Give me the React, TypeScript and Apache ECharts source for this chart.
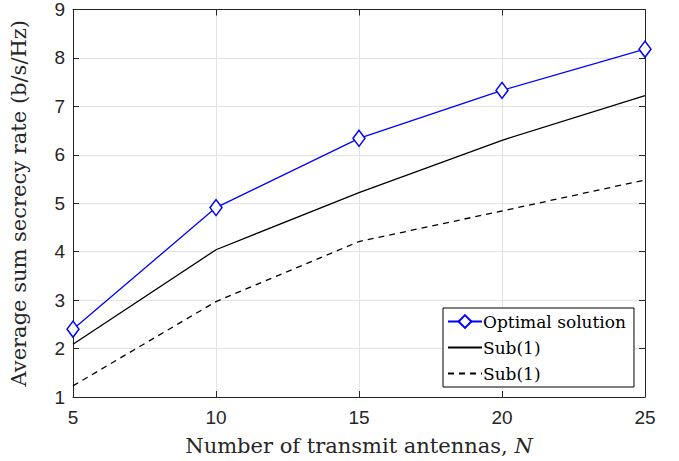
import React, { useEffect, useRef } from "react";
import * as echarts from "echarts";

// Number of transmit antennas N
const antennas = [5, 10, 15, 20, 25];
// Average sum secrecy rate (b/s/Hz)
const optimalRate = [2.4, 4.91, 6.34, 7.33, 8.18];
const subSolidRate = [2.09, 4.04, 5.22, 6.3, 7.22];
const subDashedRate = [1.23, 2.97, 4.21, 4.84, 5.48];
const yTicks = [1, 2, 3, 4, 5, 6, 7, 8, 9];

const serif = "'DejaVu Serif', 'Liberation Serif', serif";
const sans = "'Liberation Sans', Arial, sans-serif";
const axisColor = "#262626";

export default function App() {
  const ref = useRef<HTMLDivElement>(null);
  useEffect(() => {
    if (!ref.current) return;
    const chart = echarts.init(ref.current, undefined, { renderer: "svg" });
    const pts = (ys: number[]) => antennas.map((x, i) => [x, ys[i]]);
    const boxAxis = {
      axisLine: { show: true, lineStyle: { color: axisColor, width: 1 } },
      axisTick: { show: true, inside: true, length: 6, lineStyle: { color: axisColor } },
      axisLabel: { show: false },
      splitLine: { show: false },
    };
    chart.setOption({
      animation: false,
      backgroundColor: "#ffffff",
      grid: { left: 68, top: 9, right: 34, bottom: 57 },
      xAxis: [
        {
          type: "value",
          min: 5,
          max: 25,
          interval: 5,
          position: "bottom",
          name: "Number of transmit antennas, {i|N}",
          nameLocation: "middle",
          nameGap: 38,
          nameTextStyle: {
            fontFamily: serif,
            fontSize: 21,
            color: axisColor,
            rich: { i: { fontFamily: serif, fontSize: 21, fontStyle: "italic", color: axisColor } },
          },
          axisLine: { show: true, lineStyle: { color: axisColor, width: 1 } },
          axisTick: { show: true, inside: true, length: 6, lineStyle: { color: axisColor } },
          axisLabel: { fontFamily: sans, fontSize: 19, color: axisColor, margin: 11 },
          splitLine: { show: true, lineStyle: { color: "#e3e3e3", width: 1 } },
        },
        { type: "value", min: 5, max: 25, interval: 5, position: "top", ...boxAxis },
      ],
      yAxis: [
        {
          type: "value",
          min: yTicks[0],
          max: yTicks[yTicks.length - 1],
          interval: 1,
          position: "left",
          name: "Average sum secrecy rate (b/s/Hz)",
          nameLocation: "middle",
          nameGap: 44,
          nameTextStyle: { fontFamily: serif, fontSize: 21, color: axisColor },
          axisLine: { show: true, lineStyle: { color: axisColor, width: 1 } },
          axisTick: { show: true, inside: true, length: 6, lineStyle: { color: axisColor } },
          axisLabel: { fontFamily: sans, fontSize: 19, color: axisColor, margin: 8 },
          splitLine: { show: true, lineStyle: { color: "#e3e3e3", width: 1 } },
        },
        {
          type: "value",
          min: yTicks[0],
          max: yTicks[yTicks.length - 1],
          interval: 1,
          position: "right",
          ...boxAxis,
        },
      ],
      legend: {
        left: 443,
        top: 308,
        orient: "vertical",
        backgroundColor: "#ffffff",
        borderColor: "#000000",
        borderWidth: 1,
        borderRadius: 0,
        padding: [5, 8, 5, 4],
        itemGap: 9,
        itemWidth: 34,
        itemHeight: 16,
        textStyle: { fontFamily: serif, fontSize: 17, color: "#000000", padding: [0, 0, 0, -4] },
        data: [
          { name: "optimal" },
          { name: "subSolid", itemStyle: { opacity: 0 } },
          { name: "subDashed", itemStyle: { opacity: 0 } },
        ],
        formatter: (name: string) => (name === "optimal" ? "Optimal solution" : "Sub(1)"),
      },
      series: [
        {
          name: "optimal",
          type: "line",
          data: pts(optimalRate),
          color: "#0000ff",
          lineStyle: { color: "#0000ff", width: 1.3 },
          symbol: "diamond",
          symbolSize: [12, 16],
          showAllSymbol: true,
          itemStyle: { color: "#ffffff", borderColor: "#0000ff", borderWidth: 1.5 },
          z: 5,
        },
        {
          name: "subSolid",
          type: "line",
          data: pts(subSolidRate),
          color: "#000000",
          lineStyle: { color: "#000000", width: 1.3 },
          symbol: "none",
        },
        {
          name: "subDashed",
          type: "line",
          data: pts(subDashedRate),
          color: "#000000",
          lineStyle: { color: "#000000", width: 1.3, type: [6, 5] },
          symbol: "none",
        },
      ],
    });
    return () => chart.dispose();
  }, []);
  return <div ref={ref} style={{ width: 679, height: 461, position: "absolute", left: 0, top: 0 }} />;
}
